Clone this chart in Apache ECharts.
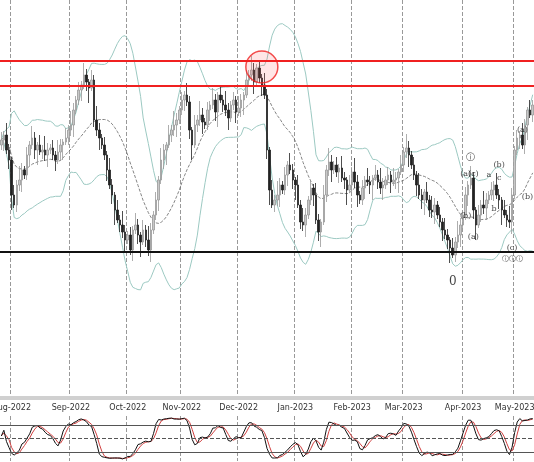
<!DOCTYPE html>
<html><head><meta charset="utf-8">
<script src="https://cdn.jsdelivr.net/npm/echarts@6/dist/echarts.min.js"></script>
<style>html,body{margin:0;padding:0;background:#fff}#c{width:534px;height:462px}</style>
</head><body><div id="c"></div>
<script>
// closes, bar by bar (price units)
var closes = [260,265,250,240,
  205,195,215,220,230,225,245,255,262,250,255,248,250,245,250,252,245,240,248,255,258,262,270,
  275,290,300,310,315,325,318,312,320,280,270,262,255,245,230,215,205,190,180,175,168,
  160,165,150,170,175,165,158,170,160,150,170,185,200,220,240,250,255,265,270,275,280,
  290,300,305,298,270,255,275,280,285,278,275,290,295,300,288,305,300,295,290,282,295,300,
  288,292,300,305,320,325,330,318,332,322,315,305,250,210,195,200,205,215,210,225,235,230,220,
  215,195,178,175,185,200,212,205,180,168,178,205,230,238,230,235,228,232,222,220,210,215,
  228,218,205,200,212,220,218,215,222,225,218,212,215,220,225,218,220,222,228,235,
  248,252,245,235,225,215,205,200,208,200,190,188,195,185,178,170,165,160,152,145,158,165,175,
  185,205,215,222,190,175,185,195,192,200,205,210,215,205,200,190,185,180,178,
  205,250,262,265,255,275,290,285,295];
var firstOpen = 255;
var wickUp = [8,4,12,6,3,10,5,14,7,4];
var wickDn = [5,11,4,9,15,3,7,6,12,4];
var resistance = [339, 314];
var support = 148;
var waveLabels = [
  [175,118,'0',12],[180,226,'(a)',8],[182,242,'ⓘ',9],[183,226,'(c)',8],[180,184,'(b)',8],
  [183,163,'(a)',8],[189,225,'a',8],[193,235,'(b)',8],[193,222,'c',8],[191,191,'b',8],
  [198,152,'(c)',8],[198,141,'ⓘⓘⓘ',7],[202,270,'(a)',8],[204,203,'(b)',8]
];

// dates: trading days starting 26 Jul 2022
var dates = [], monthStart = {};
var d = new Date(2022, 6, 26), lastM = 6;
var names = ['Jan','Feb','Mar','Apr','May','Jun','Jul','Aug','Sep','Oct','Nov','Dec'];
while (dates.length < closes.length) {
  var wd = d.getDay();
  if (wd !== 0 && wd !== 6) {
    if (d.getMonth() !== lastM) { monthStart[dates.length] = true; lastM = d.getMonth(); }
    dates.push(names[d.getMonth()] + '-' + d.getFullYear());
  }
  d.setDate(d.getDate() + 1);
}

var candles = [], highs = [], lows = [];
for (var i = 0; i < closes.length; i++) {
  var o = i ? closes[i - 1] : firstOpen, c = closes[i];
  var h = Math.max(o, c) + wickUp[i % 10], l = Math.min(o, c) - wickDn[i % 10];
  candles.push([o, c, l, h]); highs.push(h); lows.push(l);
}
// bollinger 20,2
var mid = [], up = [], dn = [];
for (var i = 0; i < closes.length; i++) {
  var s = Math.max(0, i - 19), w = closes.slice(s, i + 1);
  var m = w.reduce(function(a, b){return a + b;}, 0) / w.length;
  var sd = Math.sqrt(w.reduce(function(a, b){return a + (b - m) * (b - m);}, 0) / w.length);
  mid.push(m.toFixed(1)); up.push((m + 2 * sd).toFixed(1)); dn.push((m - 2 * sd).toFixed(1));
}
// stochastic 10,3,3
var raw = [], K = [], D = [];
for (var i = 0; i < closes.length; i++) {
  var s = Math.max(0, i - 9);
  var hh = Math.max.apply(null, highs.slice(s, i + 1)), ll = Math.min.apply(null, lows.slice(s, i + 1));
  raw.push([closes[i] - ll, hh - ll]);
}
for (var i = 0; i < raw.length; i++) {
  var s = Math.max(0, i - 2), a = 0, b = 0;
  for (var j = s; j <= i; j++) { a += raw[j][0]; b += raw[j][1]; }
  K.push(b ? a / b * 100 : 50);
}
for (var i = 0; i < K.length; i++) {
  var s = Math.max(0, i - 2), w = K.slice(s, i + 1);
  D.push(w.reduce(function(a, b){return a + b;}, 0) / w.length);
}

var isMonth = function(idx){ return !!monthStart[idx]; };
var chart = echarts.init(document.getElementById('c'));
chart.setOption({
  animation: false,
  grid: [
    {left: 0, right: 0, top: 0, height: 398, outerBoundsMode: 'none', containLabel: false},
    {left: 0, right: 0, top: 416, height: 45, outerBoundsMode: 'none', containLabel: false}
  ],
  xAxis: [
    {type: 'category', data: dates, gridIndex: 0, boundaryGap: true,
      axisLine: {lineStyle: {color: '#d0d0d0', width: 4}}, axisTick: {show: false},
      axisLabel: {interval: isMonth, color: '#333', fontSize: 8, margin: 6, fontFamily: 'DejaVu Sans'},
      splitLine: {show: true, interval: isMonth, lineStyle: {color: '#999', type: 'dashed', width: 1}}},
    {type: 'category', data: dates, gridIndex: 1, boundaryGap: true,
      axisLine: {show: false}, axisTick: {show: false}, axisLabel: {show: false},
      splitLine: {show: true, interval: isMonth, lineStyle: {color: '#999', type: 'dashed', width: 1}}}
  ],
  yAxis: [
    {type: 'value', gridIndex: 0, min: 2, max: 400, show: false},
    {type: 'value', gridIndex: 1, min: 0, max: 100, show: false}
  ],
  series: [
    {type: 'line', data: up, showSymbol: false, lineStyle: {color: '#9cc9c2', width: 1}, z: 1},
    {type: 'line', data: dn, showSymbol: false, lineStyle: {color: '#9cc9c2', width: 1}, z: 1},
    {type: 'line', data: mid, showSymbol: false, lineStyle: {color: '#666', width: 0.8, type: 'dashed'}, z: 1},
    {type: 'candlestick', data: candles, barWidth: 2,
      itemStyle: {color: '#c8c8c8', color0: '#222', borderColor: '#999', borderColor0: '#222', borderWidth: 0.8},
      markLine: {symbol: 'none', silent: true, label: {show: false},
        data: [
          {yAxis: resistance[0], lineStyle: {color: '#f02020', width: 2, type: 'solid'}},
          {yAxis: resistance[1], lineStyle: {color: '#f02020', width: 2, type: 'solid'}},
          {yAxis: support, lineStyle: {color: '#111', width: 2, type: 'solid'}}
        ]}, z: 3},
    {type: 'scatter', data: [[101, 333]], symbolSize: 32,
      itemStyle: {color: 'rgba(255,80,80,0.18)', borderColor: '#f02020', borderWidth: 1.5}, z: 4},
    {type: 'scatter', symbolSize: 0, z: 5,
      data: waveLabels.map(function(w){ return {value: [w[0], w[1]], label: {show: true, formatter: w[2], fontSize: w[3], color: '#111', fontFamily: 'DejaVu Serif'}}; })},
    {type: 'line', xAxisIndex: 1, yAxisIndex: 1, data: D.map(function(v){return v.toFixed(1);}), showSymbol: false,
      lineStyle: {color: '#d04040', width: 1},
      markLine: {symbol: 'none', silent: true, label: {show: false},
        data: [
          {yAxis: 80, lineStyle: {color: '#555', width: 1, type: 'solid'}},
          {yAxis: 50, lineStyle: {color: '#555', width: 1, type: 'dashed'}},
          {yAxis: 20, lineStyle: {color: '#555', width: 1, type: 'solid'}}
        ]}},
    {type: 'line', xAxisIndex: 1, yAxisIndex: 1, data: K.map(function(v){return v.toFixed(1);}), showSymbol: false,
      lineStyle: {color: '#111', width: 1}}
  ]
});
</script></body></html>
